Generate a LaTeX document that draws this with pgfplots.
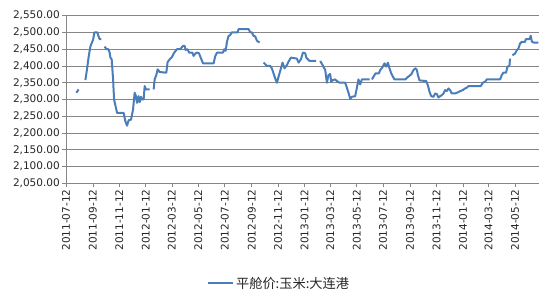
\documentclass[border=0pt]{standalone}
\usepackage{pgfplots}
\pgfplotsset{compat=1.18}
\usepackage{pgfplotstable}
\usepackage{fontspec}
\setmainfont{DejaVu Sans}
\newfontfamily\cjk{Noto Sans CJK SC}
\definecolor{linecol}{RGB}{74,126,187}
\definecolor{gridcol}{RGB}{134,134,134}
\pgfplotstableread{
x y
24 2320
29 2330
nan nan
44.7 2358
48.6 2392
52.3 2428
56.2 2458
59.2 2468
62.4 2478
65.4 2500
72.3 2500
74.6 2490
77.6 2480
81.5 2480
nan nan
89.1 2458
93 2450
97.6 2450
100.6 2440
102.3 2425
105.3 2420
108.5 2360
110.8 2300
117.7 2260
132.9 2260
136.8 2235
140.7 2222
144.4 2238
149.9 2240
154.5 2270
158.2 2320
161.4 2310
163.7 2290
167.4 2310
169.7 2292
173 2308
175.3 2300
179 2300
181.3 2340
184.5 2330
192.8 2330
nan nan
202 2330
204.3 2360
208.2 2373
211.2 2390
215.8 2382
231.2 2380
234.2 2412
240.4 2422
244.3 2427
248 2437
251.9 2444
255.9 2450
263.5 2450
269.7 2460
273.4 2460
275.7 2448
280.3 2450
283.5 2440
291.1 2440
294.1 2430
298 2437
301.9 2440
306.5 2438
309.5 2428
313.5 2415
315.8 2408
340.2 2408
344.1 2430
348 2440
361.8 2440
364.8 2450
367.9 2445
371.1 2473
374.8 2490
378.6 2492
381.6 2500
395.5 2500
397.7 2510
420.8 2510
424.7 2500
428.6 2500
432.3 2490
436.2 2488
440.1 2475
446.2 2470
nan nan
455.4 2410
459.2 2405
463.1 2400
470.8 2400
474.7 2392
478.3 2378
482.3 2362
486.2 2350
489.9 2368
495.4 2393
499.1 2410
503.7 2393
509.2 2403
512.9 2413
518.4 2425
532.3 2422
536 2410
541.5 2420
546.1 2440
551.4 2438
553.7 2425
561.3 2415
576.7 2415
nan nan
585.9 2415
591.2 2403
597.4 2388
601.3 2350
605 2373
608.9 2376
611.2 2353
615.1 2358
620.4 2360
624.4 2355
630.4 2350
643.5 2350
647.4 2335
651.1 2320
655 2302
658.9 2308
666.5 2310
670.4 2335
674.1 2360
678 2345
681.9 2360
700 2360
nan nan
705 2360
708.8 2368
713.4 2378
721.2 2378
724.2 2388
728.8 2395
734.1 2408
738 2398
741.9 2410
745.6 2393
749.5 2378
753.4 2368
757.1 2360
782.5 2360
785.7 2365
789 2368
795.6 2375
800.9 2388
805.5 2393
808.7 2388
811 2373
814.7 2357
830.2 2355
834.1 2342
837.8 2323
841.7 2310
846.9 2308
850.8 2318
854.7 2316
858.4 2306
862.3 2310
866.2 2313
869.9 2318
873.8 2328
877.7 2325
881.4 2333
885.3 2328
889.3 2318
896.8 2318
904.4 2322
908.3 2325
914.5 2328
919.8 2333
923.8 2335
927.5 2340
956 2340
960.6 2350
965.9 2353
969.8 2360
1000.5 2360
1004.4 2373
1008.1 2380
1014.3 2380
1017.3 2398
1021.9 2400
1023.5 2422
nan nan
1028.8 2432
1035 2437
1038.9 2447
1042.6 2452
1046.5 2467
1050.4 2472
1058 2472
1059.7 2480
1068 2480
1071.2 2490
1073.5 2473
1077.2 2470
1088.7 2470
}\pricedata
\begin{document}
\begin{tikzpicture}
\useasboundingbox (0,0) rectangle (550bp,300bp);
\begin{axis}[
  at={(66bp,116.7bp)}, anchor=south west,
  scale only axis, width=472.5bp, height=167.6bp,
  xmin=0, xmax=1089, ymin=2050, ymax=2550,
  ytick={2050,2100,...,2550},
  xtick={0,62,123,184,244,305,366,428,489,550,609,670,731,793,854,915,974,1035},
  xticklabels={2011-07-12,2011-09-12,2011-11-12,2012-01-12,2012-03-12,2012-05-12,2012-07-12,2012-09-12,2012-11-12,2013-01-12,2013-03-12,2013-05-12,2013-07-12,2013-09-12,2013-11-12,2014-01-12,2014-03-12,2014-05-12},
  xticklabel style={rotate=90, anchor=east, font=\fontsize{10.5bp}{12bp}\selectfont, text=black!85, inner sep=2bp},
  yticklabel style={font=\fontsize{10.5bp}{12bp}\selectfont, text=black!85, inner sep=2bp},
  /pgf/number format/.cd, fixed, fixed zerofill, precision=2, 1000 sep={,}, assume math mode=true,
  /pgfplots/.cd,
  axis x line*=bottom, axis y line*=left,
  axis line style={draw=gridcol, line width=0.7bp},
  x axis line style={-}, y axis line style={-},
  tick align=outside, major tick length=4bp,
  tick style={draw=gridcol, line width=0.7bp},
  ymajorgrids, grid style={draw=gridcol, line width=0.8bp},
  unbounded coords=jump,
  legend style={at={(0.451,-0.597)}, anchor=center, draw=none, fill=none,
    font=\cjk\fontsize{13.2bp}{15bp}\selectfont, text=black!85},
  legend image code/.code={\draw[linecol, line width=2bp] (0bp,0bp) -- (25bp,0bp);},
]
\addplot[color=linecol, line width=2bp, line join=round] table[x=x, y=y] {\pricedata};
\addlegendentry{平舱价:玉米:大连港}
\end{axis}
\end{tikzpicture}
\end{document}
